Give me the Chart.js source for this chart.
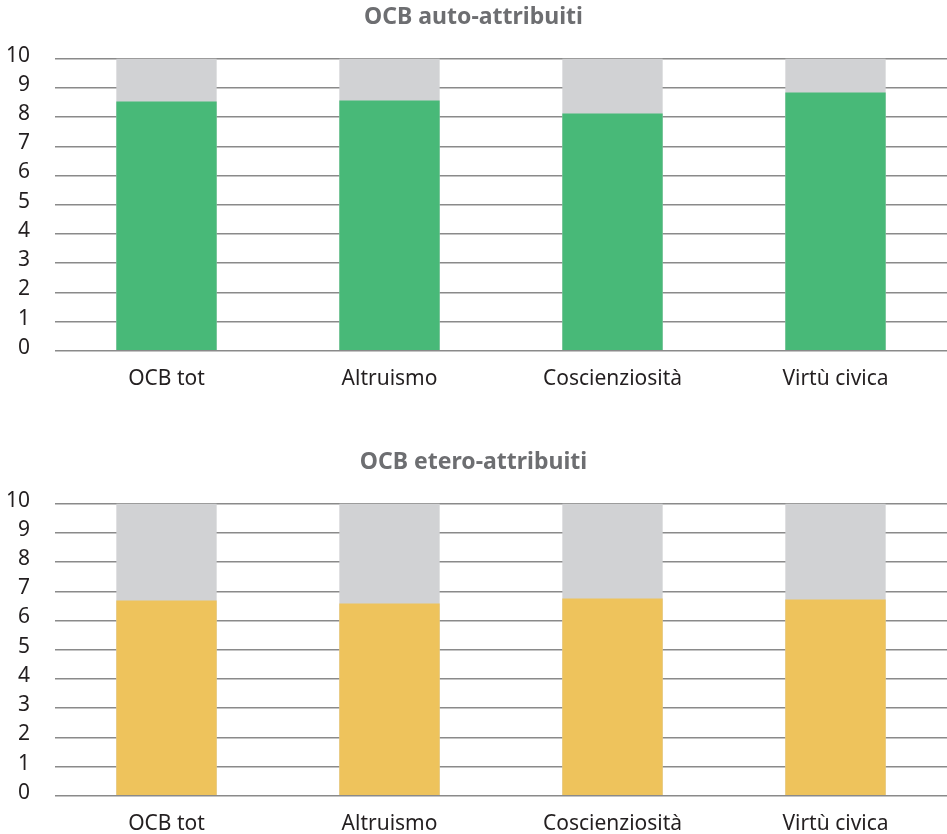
<!DOCTYPE html>
<html>
<head>
<meta charset="utf-8">
<script src="https://cdn.jsdelivr.net/npm/chart.js@4"></script>
<style>
    html, body { margin: 0; padding: 0; background: #fff; overflow: hidden; }
    .wrap { position: absolute; left: 0; width: 947px; }
    #top { top: 0; height: 410px; }
    #bottom { top: 445px; height: 400px; }
</style>
</head>
<body>
<div class="wrap" id="top"><canvas id="chartAuto"></canvas></div>
<div class="wrap" id="bottom"><canvas id="chartEtero"></canvas></div>
<script>
/* ===== Data ===== */
const categories = ['OCB tot', 'Altruismo', 'Coscienziosità', 'Virtù civica'];
const autoValues = [8.53, 8.57, 8.12, 8.84];
const eteroValues = [6.68, 6.58, 6.75, 6.72];
const scaleMax = [10, 10, 10, 10];
const yTicks = [0, 1, 2, 3, 4, 5, 6, 7, 8, 9, 10];

const FONT = 'Noto Sans';

function buildChart(id, title, values, color, pad) {
    const ctx = document.getElementById(id);
    if (!ctx) return;

    new Chart(ctx, {
        type: 'bar',
        data: {
            labels: categories,
            datasets: [
                {
                    label: title,
                    data: values,
                    backgroundColor: color,
                    barPercentage: 0.9,
                    categoryPercentage: 0.5,
                    order: 1
                },
                {
                    label: 'max',
                    data: scaleMax,
                    backgroundColor: '#d1d2d4',
                    barPercentage: 0.9,
                    categoryPercentage: 0.5,
                    order: 2
                }
            ]
        },
        options: {
            responsive: true,
            maintainAspectRatio: false,
            animation: false,
            datasets: { bar: { grouped: false } },
            layout: { padding: pad },
            plugins: {
                legend: { display: false },
                tooltip: { enabled: false },
                title: {
                    display: true,
                    text: title,
                    color: '#6d6e71',
                    font: { family: FONT, size: 23, weight: 'bold' },
                    padding: { top: 4, bottom: 27 }
                }
            },
            scales: {
                x: {
                    grid: { display: false },
                    border: { display: false },
                    ticks: {
                        color: '#231f20',
                        padding: 8,
                        font: { family: FONT, size: 21 }
                    }
                },
                y: {
                    min: 0,
                    max: 10,
                    afterBuildTicks: (axis) => { axis.ticks = yTicks.map(v => ({ value: v })); },
                    afterFit: (axis) => { axis.width = 55; },
                    border: { display: false },
                    grid: {
                        color: '#8a8a8a',
                        lineWidth: 1.5,
                        drawTicks: false
                    },
                    ticks: {
                        color: '#231f20',
                        padding: 25,
                        labelOffset: -3,
                        font: { family: FONT, size: 21 }
                    }
                }
            }
        }
    });
}

buildChart('chartAuto', 'OCB auto-attribuiti', autoValues, '#48b978', { left: 0, right: 0, bottom: 10 });
buildChart('chartEtero', 'OCB etero-attribuiti', eteroValues, '#eec35c', { left: 0, right: 0, bottom: 0 });
</script>
</body>
</html>
